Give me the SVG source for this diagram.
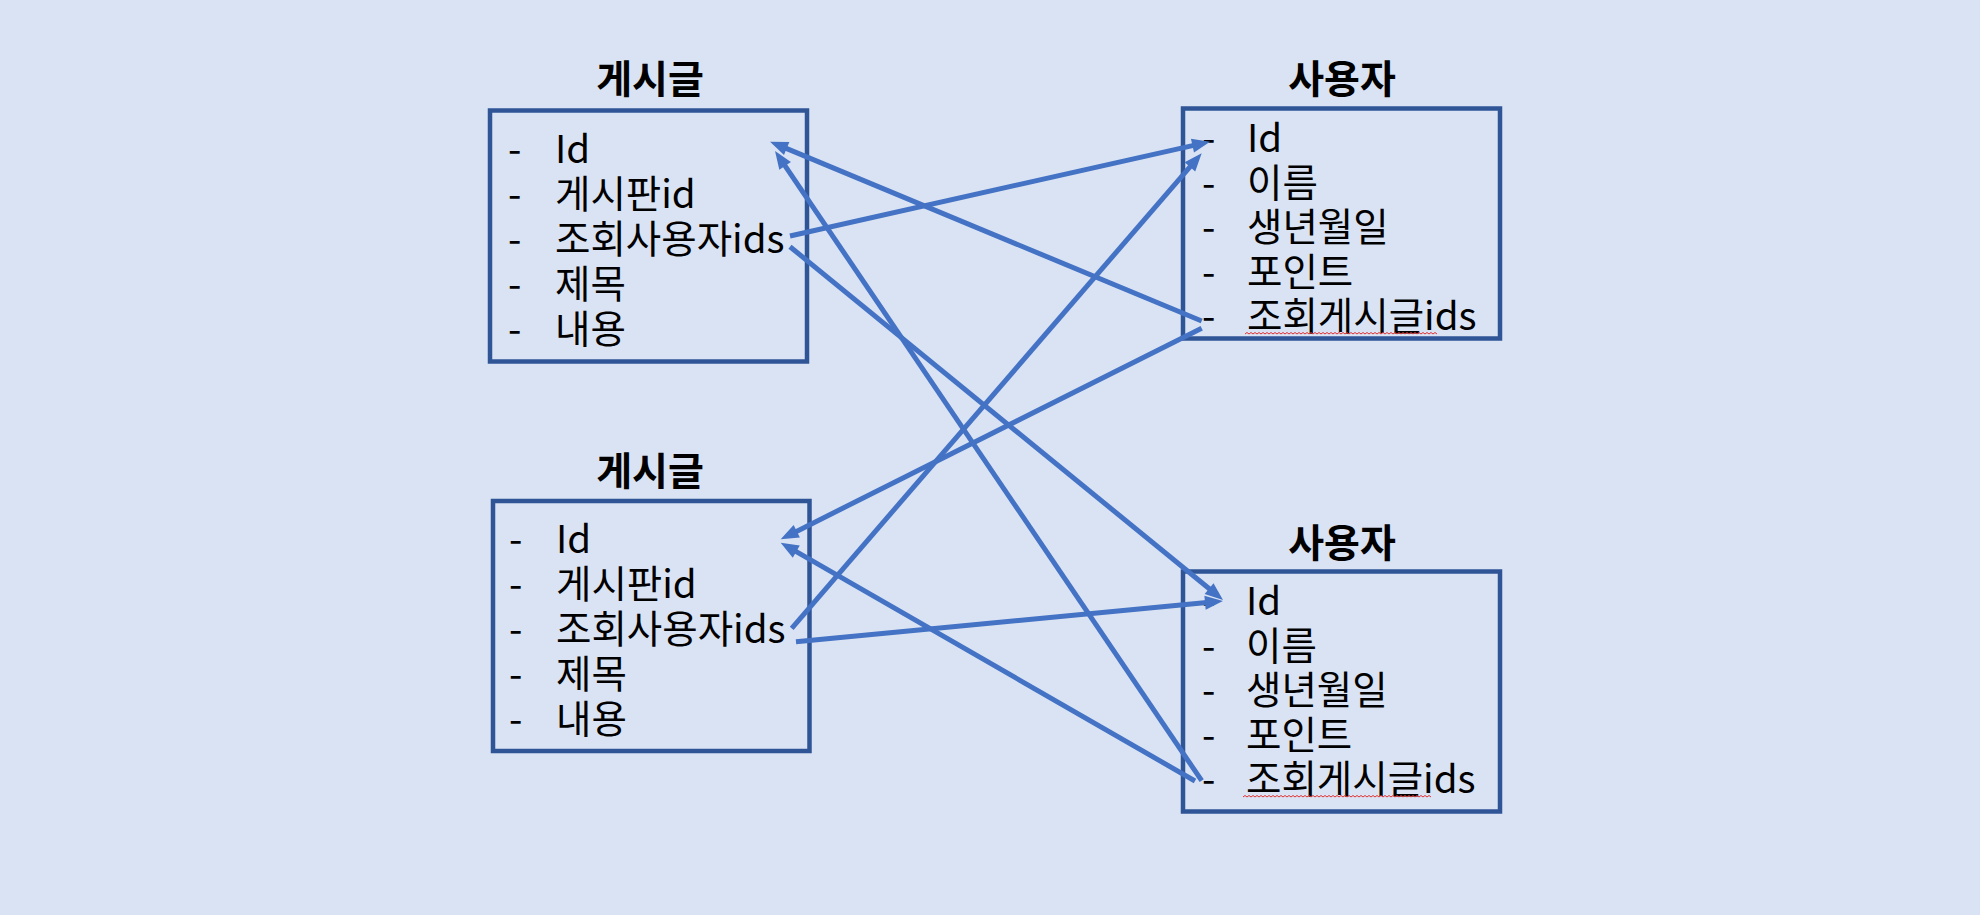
<svg xmlns="http://www.w3.org/2000/svg" width="1980" height="915" viewBox="0 0 1980 915">
<style>
.bg{fill:#DAE3F3}
.box{fill:none;stroke:#2F5597;stroke-width:4.5}
.t{font-family:"Noto Sans CJK KR","Noto Sans",sans-serif;font-size:38.5px;fill:#000}
.title{font-family:"Noto Sans CJK KR","Noto Sans",sans-serif;font-size:39px;font-weight:bold;fill:#000;text-anchor:middle}
.c{stroke:#4472C4;stroke-width:5;fill:none;marker-end:url(#ah)}
.sq{fill:none;stroke:#E03030;stroke-width:1}
</style>
<defs>
<marker id="ah" markerUnits="userSpaceOnUse" markerWidth="19" markerHeight="15" refX="7" refY="7" orient="auto" overflow="visible">
<path d="M0,0 L18,7 L0,14 z" fill="#4472C4"/>
</marker>
</defs>
<rect class="bg" x="0" y="0" width="1980" height="915"/>

<g id="post1">
<text class="title" x="650" y="93">게시글</text>
<rect class="box" x="490" y="110.5" width="317" height="251"/>
<text class="t" x="508" y="163">-</text><text class="t" x="555" y="163">Id</text>
<text class="t" x="508" y="208">-</text><text class="t" x="555" y="208">게시판id</text>
<text class="t" x="508" y="253">-</text><text class="t" x="555" y="253">조회사용자ids</text>
<text class="t" x="508" y="298">-</text><text class="t" x="555" y="298">제목</text>
<text class="t" x="508" y="343">-</text><text class="t" x="555" y="343">내용</text>
</g>

<g id="post2">
<text class="title" x="650" y="485">게시글</text>
<rect class="box" x="493" y="501" width="316.5" height="250"/>
<text class="t" x="509" y="553">-</text><text class="t" x="556" y="553">Id</text>
<text class="t" x="509" y="598">-</text><text class="t" x="556" y="598">게시판id</text>
<text class="t" x="509" y="643">-</text><text class="t" x="556" y="643">조회사용자ids</text>
<text class="t" x="509" y="688">-</text><text class="t" x="556" y="688">제목</text>
<text class="t" x="509" y="733">-</text><text class="t" x="556" y="733">내용</text>
</g>

<g id="user1">
<text class="title" x="1342" y="93">사용자</text>
<rect class="box" x="1183" y="108.5" width="317" height="230"/>
<text class="t" x="1202" y="152">-</text><text class="t" x="1247" y="152">Id</text>
<text class="t" x="1202" y="196.5">-</text><text class="t" x="1247" y="196.5">이름</text>
<text class="t" x="1202" y="241">-</text><text class="t" x="1247" y="241">생년월일</text>
<text class="t" x="1202" y="285.5">-</text><text class="t" x="1247" y="285.5">포인트</text>
<text class="t" x="1202" y="330">-</text><text class="t" x="1247" y="330">조회게시글ids</text>
<path class="sq" d="M1245,334 l2,-1.5 l2,1.5 l2,-1.5 l2,1.5 l2,-1.5 l2,1.5 l2,-1.5 l2,1.5 l2,-1.5 l2,1.5 l2,-1.5 l2,1.5 l2,-1.5 l2,1.5 l2,-1.5 l2,1.5 l2,-1.5 l2,1.5 l2,-1.5 l2,1.5 l2,-1.5 l2,1.5 l2,-1.5 l2,1.5 l2,-1.5 l2,1.5 l2,-1.5 l2,1.5 l2,-1.5 l2,1.5 l2,-1.5 l2,1.5 l2,-1.5 l2,1.5 l2,-1.5 l2,1.5 l2,-1.5 l2,1.5 l2,-1.5 l2,1.5 l2,-1.5 l2,1.5 l2,-1.5 l2,1.5 l2,-1.5 l2,1.5 l2,-1.5 l2,1.5 l2,-1.5 l2,1.5 l2,-1.5 l2,1.5 l2,-1.5 l2,1.5 l2,-1.5 l2,1.5 l2,-1.5 l2,1.5 l2,-1.5 l2,1.5 l2,-1.5 l2,1.5 l2,-1.5 l2,1.5 l2,-1.5 l2,1.5 l2,-1.5 l2,1.5 l2,-1.5 l2,1.5 l2,-1.5 l2,1.5 l2,-1.5 l2,1.5 l2,-1.5 l2,1.5 l2,-1.5 l2,1.5 l2,-1.5 l2,1.5 l2,-1.5 l2,1.5 l2,-1.5 l2,1.5 l2,-1.5 l2,1.5 l2,-1.5 l2,1.5 l2,-1.5 l2,1.5 l2,-1.5 l2,1.5 l2,-1.5 l2,1.5 l2,-1.5 l2,1.5"/>
</g>

<g id="user2">
<text class="title" x="1342" y="557">사용자</text>
<rect class="box" x="1183" y="571.5" width="317" height="240"/>
<text class="t" x="1202" y="615">-</text><text class="t" x="1246" y="615">Id</text>
<text class="t" x="1202" y="659.5">-</text><text class="t" x="1246" y="659.5">이름</text>
<text class="t" x="1202" y="704">-</text><text class="t" x="1246" y="704">생년월일</text>
<text class="t" x="1202" y="748.5">-</text><text class="t" x="1246" y="748.5">포인트</text>
<text class="t" x="1202" y="793">-</text><text class="t" x="1246" y="793">조회게시글ids</text>
<path class="sq" d="M1243,797 l2,-1.5 l2,1.5 l2,-1.5 l2,1.5 l2,-1.5 l2,1.5 l2,-1.5 l2,1.5 l2,-1.5 l2,1.5 l2,-1.5 l2,1.5 l2,-1.5 l2,1.5 l2,-1.5 l2,1.5 l2,-1.5 l2,1.5 l2,-1.5 l2,1.5 l2,-1.5 l2,1.5 l2,-1.5 l2,1.5 l2,-1.5 l2,1.5 l2,-1.5 l2,1.5 l2,-1.5 l2,1.5 l2,-1.5 l2,1.5 l2,-1.5 l2,1.5 l2,-1.5 l2,1.5 l2,-1.5 l2,1.5 l2,-1.5 l2,1.5 l2,-1.5 l2,1.5 l2,-1.5 l2,1.5 l2,-1.5 l2,1.5 l2,-1.5 l2,1.5 l2,-1.5 l2,1.5 l2,-1.5 l2,1.5 l2,-1.5 l2,1.5 l2,-1.5 l2,1.5 l2,-1.5 l2,1.5 l2,-1.5 l2,1.5 l2,-1.5 l2,1.5 l2,-1.5 l2,1.5 l2,-1.5 l2,1.5 l2,-1.5 l2,1.5 l2,-1.5 l2,1.5 l2,-1.5 l2,1.5 l2,-1.5 l2,1.5 l2,-1.5 l2,1.5 l2,-1.5 l2,1.5 l2,-1.5 l2,1.5 l2,-1.5 l2,1.5 l2,-1.5 l2,1.5 l2,-1.5 l2,1.5 l2,-1.5 l2,1.5 l2,-1.5 l2,1.5 l2,-1.5 l2,1.5 l2,-1.5 l2,1.5"/>
</g>

<g id="connectors">
<line class="c" x1="790" y1="236" x2="1199.3" y2="144.1"/>
<line class="c" x1="790" y1="246.7" x2="1214.5" y2="593"/>
<line class="c" x1="1201.7" y1="321" x2="780.2" y2="145.9"/>
<line class="c" x1="1201.7" y1="328.3" x2="790.5" y2="534.4"/>
<line class="c" x1="791.7" y1="628.3" x2="1194.5" y2="161.6"/>
<line class="c" x1="796" y1="641.7" x2="1212" y2="602"/>
<line class="c" x1="1201.7" y1="780.7" x2="781.2" y2="160.1"/>
<line class="c" x1="1195" y1="781" x2="790.2" y2="548.2"/>
</g>
</svg>
